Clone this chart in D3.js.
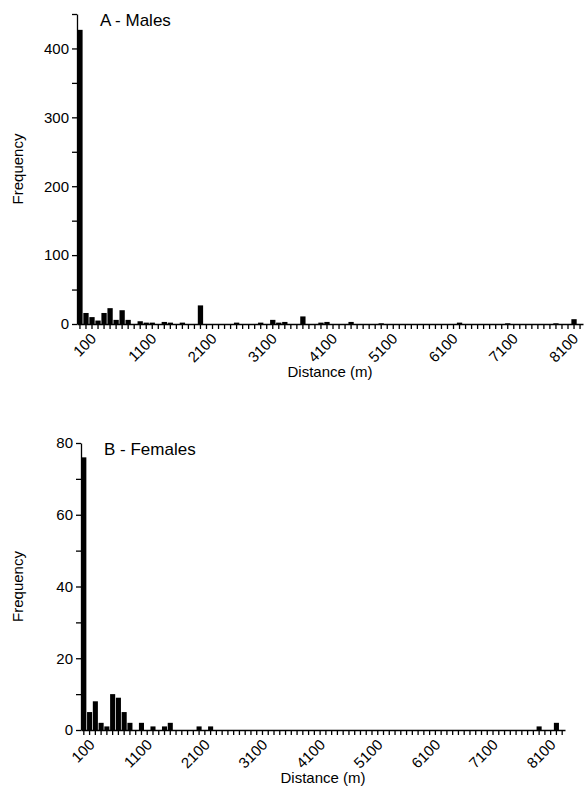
<!DOCTYPE html>
<html lang="en">
<head>
  <meta charset="utf-8">
  <title>Distance frequency</title>
  <style>
    body { margin: 0; background: #fff; font-family: 'Liberation Sans', Arial, sans-serif; }
    .axis path, .axis line { stroke: #000; stroke-width: 1.3px; }
    .axis text { font-size: 15px; fill: #000; font-family: 'Liberation Sans', Arial, sans-serif; }
  </style>
</head>
<body>
<div id="chart"></div>
<script src="https://d3js.org/d3.v7.min.js"></script>
<script>
  // distance bins (m), 100 m wide
  var bins = d3.range(1, 85).map(function (i) { return i * 100; });
  var xLabels = [100, 1100, 2100, 3100, 4100, 5100, 6100, 7100, 8100];

  // males: frequency per bin
  var males = [427, 16, 10, 5, 16, 23, 6, 20, 6, 0,
               4, 2, 2, 0, 3, 2, 0, 2, 0, 0,
               27, 0, 0, 0, 0, 0, 2, 0, 0, 0,
               2, 0, 6, 2, 3, 0, 0, 11, 0, 0,
               2, 3, 0, 0, 0, 3, 0, 0, 0, 0,
               1, 0, 0, 0, 0, 0, 0, 0, 0, 0,
               0, 0, 0, 2, 0, 0, 0, 0, 0, 0,
               0, 1, 0, 0, 0, 0, 0, 0, 0, 1,
               0, 0, 7, 0];

  // females
  var females = [76, 5, 8, 2, 1, 10, 9, 5, 2, 0,
                 2, 0, 1, 0, 1, 2, 0, 0, 0, 0,
                 1, 0, 1, 0, 0, 0, 0, 0, 0, 0,
                 0, 0, 0, 0, 0, 0, 0, 0, 0, 0,
                 0, 0, 0, 0, 0, 0, 0, 0, 0, 0,
                 0, 0, 0, 0, 0, 0, 0, 0, 0, 0,
                 0, 0, 0, 0, 0, 0, 0, 0, 0, 0,
                 0, 0, 0, 0, 0, 0, 0, 0, 0, 1,
                 0, 0, 2, 0];

  var maleTicks = d3.range(0, 451, 50);
  var femaleTicks = d3.range(0, 81, 10);

  var svg = d3.select("#chart").append("svg")
    .attr("width", 588)
    .attr("height", 797);

  function panel(opt) {
    var x = d3.scaleBand().domain(bins).range([opt.left, opt.right]).paddingInner(0.12).paddingOuter(0.05);
    var y = d3.scaleLinear().domain([0, opt.ymax]).range([opt.bottom, opt.top]);

    var g = svg.append("g");

    // bars
    g.append("g")
      .selectAll("rect")
      .data(opt.values)
      .enter()
      .append("rect")
      .attr("x", function (d, i) { return x(bins[i]); })
      .attr("width", x.bandwidth())
      .attr("y", function (d) { return y(d); })
      .attr("height", function (d) { return opt.bottom - y(d); })
      .attr("fill", "#000");

    // x axis, a tick for every bin
    var xa = g.append("g")
      .attr("class", "axis")
      .attr("transform", "translate(0," + opt.bottom + ")")
      .call(d3.axisBottom(x)
        .tickSize(5)
        .tickSizeOuter(0)
        .tickFormat(function (d) { return xLabels.indexOf(d) >= 0 ? d : ""; }));
    xa.selectAll("text")
      .attr("text-anchor", "end")
      .attr("transform", "translate(" + opt.labelDx + ",12) rotate(-45)")
      .attr("y", 0)
      .attr("dy", "0.35em")
      .attr("x", 0);

    // y axis
    g.append("g")
      .attr("class", "axis")
      .attr("transform", "translate(" + opt.left + ",0)")
      .call(d3.axisLeft(y)
        .tickValues(opt.yticks)
        .tickSize(5)
        .tickSizeOuter(0)
        .tickFormat(function (d) { return d % opt.ystep === 0 ? d : ""; }));

    // panel title
    g.append("text")
      .attr("x", opt.left + 23)
      .attr("y", opt.top + 12)
      .style("font-size", "17px")
      .text(opt.title);

    // axis titles
    g.append("text")
      .attr("x", (opt.left + opt.right) / 2)
      .attr("y", opt.bottom + 53)
      .attr("text-anchor", "middle")
      .style("font-size", "15px")
      .text("Distance (m)");

    g.append("text")
      .attr("transform", "translate(23," + (opt.top + opt.bottom) / 2 + ") rotate(-90)")
      .attr("text-anchor", "middle")
      .style("font-size", "15px")
      .text("Frequency");
  }

  panel({ values: males, left: 77, right: 583, top: 14, bottom: 324, ymax: 450,
          yticks: maleTicks, ystep: 100, title: "A - Males", labelDx: 13.5 });
  panel({ values: females, left: 81, right: 565, top: 443, bottom: 730, ymax: 80,
          yticks: femaleTicks, ystep: 20, title: "B - Females", labelDx: 8 });
</script>
</body>
</html>
